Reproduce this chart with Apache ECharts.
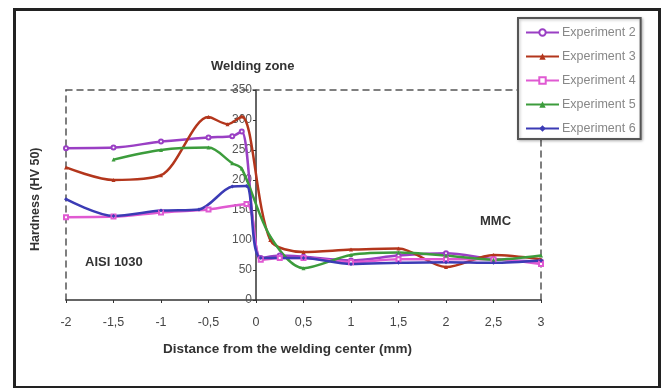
<!DOCTYPE html>
<html>
<head>
<meta charset="utf-8">
<script src="https://cdn.jsdelivr.net/npm/echarts@6/dist/echarts.min.js"></script>
<style>
  html, body { margin: 0; padding: 0; background: #fff; }
  #chart { width: 663px; height: 388px; }
</style>
</head>
<body>
<div id="chart"></div>
<script>
// values
const exp2X = [-2, -1.5, -1, -0.5, -0.25, -0.15, 0.05, 0.25, 0.5, 1, 1.5, 2, 2.5, 3]
const exp2Y = [253, 254, 264, 271, 273, 281, 70, 74, 72, 66, 74, 78, 68, 64]
const exp3X = [-2, -1.5, -1, -0.5, -0.3, -0.15, 0.15, 0.5, 1, 1.5, 2, 2.5, 3]
const exp3Y = [221, 200, 208, 305, 293, 306, 100, 80, 84, 86, 55, 75, 68]
const exp4X = [-2, -1.5, -1, -0.5, -0.1, 0.05, 0.25, 0.5, 1, 1.5, 2, 2.5, 3]
const exp4Y = [138, 139, 146, 151, 160, 67, 70, 70, 63, 68, 68, 68, 60]
const exp5X = [-1.5, -1, -0.5, -0.25, -0.15, 0.15, 0.5, 1, 1.5, 2, 2.5, 3]
const exp5Y = [234, 250, 254, 228, 219, 106, 53, 75, 79, 74, 67, 74]
const exp6X = [-2, -1.5, -1, -0.6, -0.25, -0.1, 0.05, 0.5, 1, 1.5, 2, 2.5, 3]
const exp6Y = [168, 140, 149, 151, 189, 190, 70, 70, 60, 62, 63, 62, 66]

const seriesNames = ['Experiment 2', 'Experiment 3', 'Experiment 4', 'Experiment 5', 'Experiment 6']
const seriesColors = ['#9a3fc4', '#b3361c', '#e05ad2', '#3c9c3c', '#3b3bb5']
const seriesSymbols = ['emptyCircle', 'triangle', 'emptyRect', 'triangle', 'diamond']

const xMin = -2, xMax = 3, xStep = 0.5
const yMin = 0, yMax = 350, yStep = 50

function pairs(xs, ys) {
  return xs.map((x, i) => [x, ys[i]])
}

const allData = [
  pairs(exp2X, exp2Y),
  pairs(exp3X, exp3Y),
  pairs(exp4X, exp4Y),
  pairs(exp5X, exp5Y),
  pairs(exp6X, exp6Y)
]

const gridLeft = 66, gridRight = 122
const plotW = 663 - gridLeft - gridRight
// the solid value axis sits on x = 0, inside the plot
const yAxisOffset = -plotW * (0 - xMin) / (xMax - xMin)

const chart = echarts.init(document.getElementById('chart'))
const font = 'Liberation Sans, Arial, sans-serif'
const dashed = { show: true, onZero: false, lineStyle: { color: '#555', width: 1.5, type: [6, 5] } }

chart.setOption({
  animation: false,
  textStyle: { fontFamily: font },
  grid: { left: gridLeft, right: gridRight, top: 90, bottom: 88 },
  legend: {
    data: seriesNames,
    orient: 'vertical',
    left: 518,
    top: 18,
    itemWidth: 33,
    itemHeight: 8,
    itemGap: 11,
    padding: [8, 5, 4, 7],
    borderColor: '#555',
    borderWidth: 2,
    backgroundColor: '#fff',
    shadowColor: 'rgba(0,0,0,0.25)',
    shadowBlur: 3,
    shadowOffsetX: 1,
    shadowOffsetY: 1,
    textStyle: { fontSize: 12.5, color: '#888', fontFamily: font, padding: [0, 0, 0, -2] }
  },
  xAxis: [
    {
      type: 'value',
      min: xMin,
      max: xMax,
      interval: xStep,
      axisLine: { onZero: false, lineStyle: { color: '#333', width: 1.5 } },
      axisTick: { show: true, length: 3, lineStyle: { color: '#333' } },
      splitLine: { show: false },
      axisLabel: {
        color: '#444',
        fontSize: 12.5,
        margin: 16,
        formatter: v => String(v).replace('.', ',')
      }
    },
    {
      type: 'value',
      position: 'top',
      min: xMin,
      max: xMax,
      axisLine: dashed,
      axisTick: { show: false },
      axisLabel: { show: false },
      splitLine: { show: false }
    }
  ],
  yAxis: [
    {
      type: 'value',
      position: 'left',
      offset: yAxisOffset,
      min: yMin,
      max: yMax,
      interval: yStep,
      axisLine: { show: true, onZero: false, lineStyle: { color: '#333', width: 1.5 } },
      axisTick: { show: true, length: 3, lineStyle: { color: '#333' } },
      splitLine: { show: false },
      axisLabel: { color: '#555', fontSize: 12, margin: 4 }
    },
    {
      type: 'value',
      position: 'right',
      min: yMin,
      max: yMax,
      axisLine: dashed,
      axisTick: { show: false },
      axisLabel: { show: false },
      splitLine: { show: false }
    },
    {
      type: 'value',
      position: 'left',
      min: yMin,
      max: yMax,
      axisLine: dashed,
      axisTick: { show: false },
      axisLabel: { show: false },
      splitLine: { show: false }
    }
  ],
  series: allData.map((d, i) => ({
    name: seriesNames[i],
    type: 'line',
    data: d,
    smooth: 0.3,
    symbol: seriesSymbols[i],
    symbolSize: 4,
    color: seriesColors[i],
    lineStyle: { width: 2.5 },
    z: 3
  })),
  graphic: [
    {
      type: 'rect',
      left: 12,
      top: 7,
      shape: { width: 645, height: 378 },
      style: { fill: 'none', stroke: '#222', lineWidth: 3 },
      silent: true
    },
    {
      type: 'text',
      left: 211,
      top: 60,
      style: { text: 'Welding zone', font: 'bold 13px ' + font, fill: '#333' }
    },
    {
      type: 'text',
      left: 85,
      top: 256,
      style: { text: 'AISI 1030', font: 'bold 13px ' + font, fill: '#333' }
    },
    {
      type: 'text',
      left: 480,
      top: 215,
      style: { text: 'MMC', font: 'bold 13px ' + font, fill: '#333' }
    },
    {
      type: 'text',
      left: 163,
      top: 342,
      style: { text: 'Distance from the welding center (mm)', font: 'bold 13.5px ' + font, fill: '#333' }
    },
    {
      type: 'text',
      x: 29,
      y: 251,
      rotation: Math.PI / 2,
      style: { text: 'Hardness (HV 50)', font: 'bold 12.5px ' + font, fill: '#333' }
    }
  ]
})
</script>
</body>
</html>
